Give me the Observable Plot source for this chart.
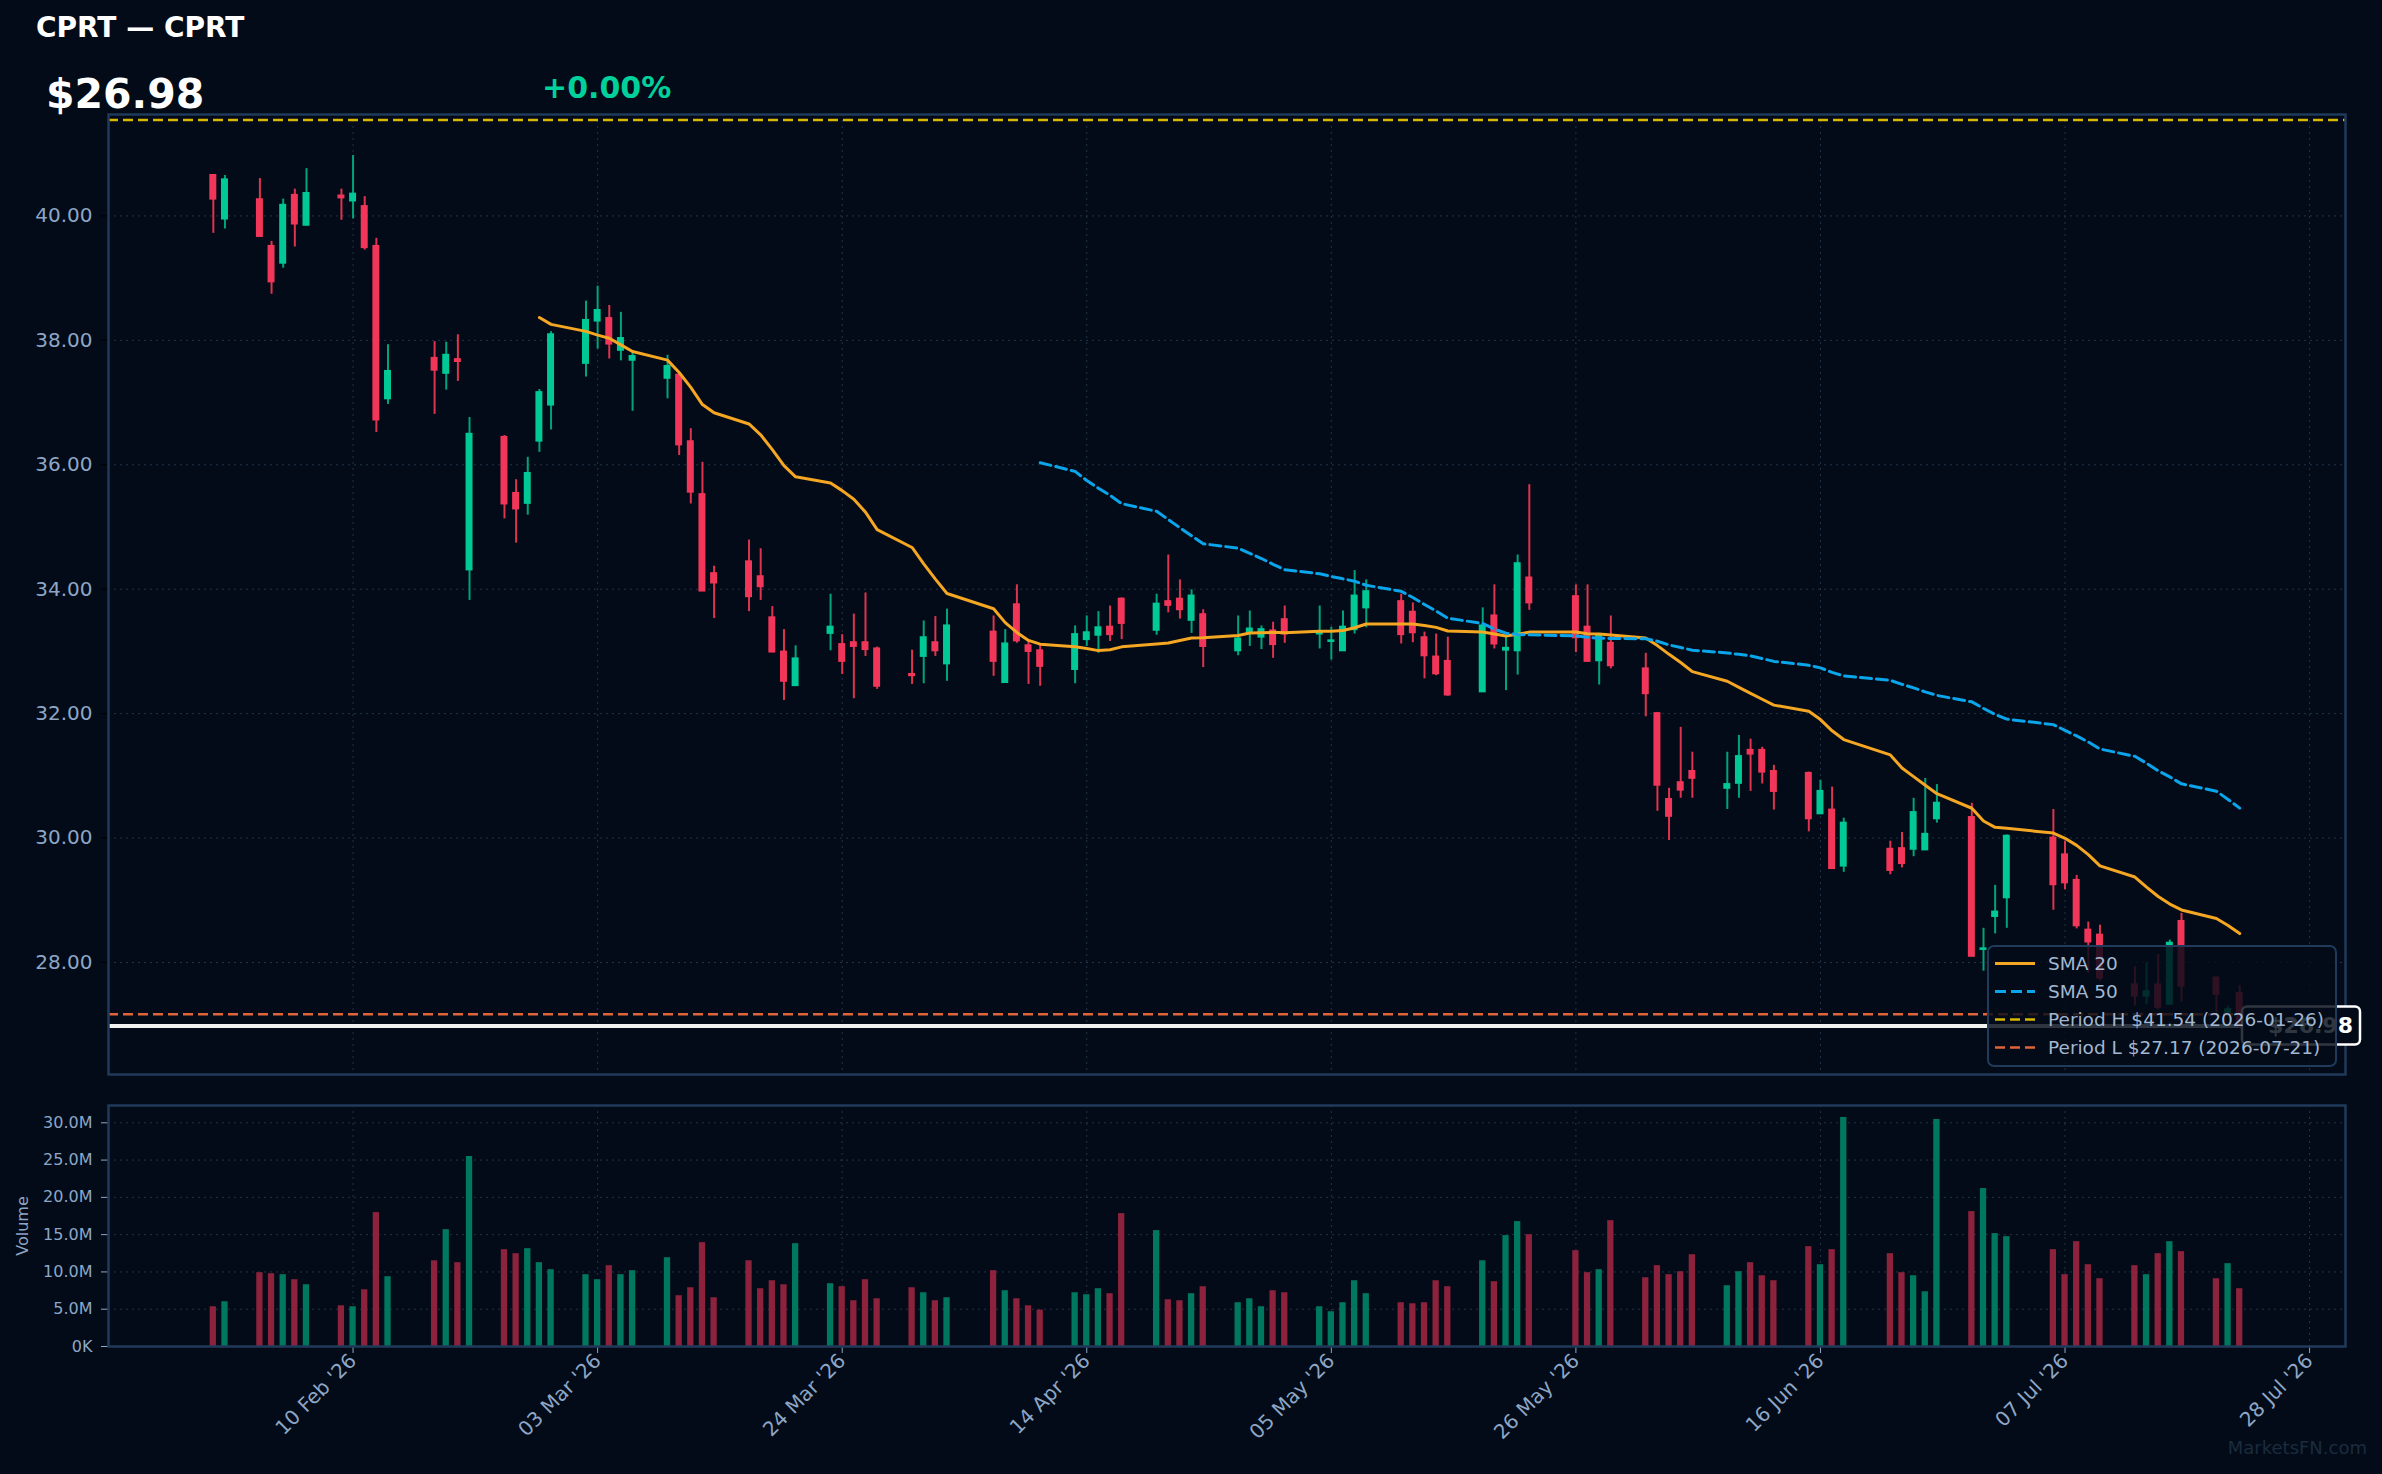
<!DOCTYPE html>
<html><head><meta charset="utf-8">
<script src="https://cdn.jsdelivr.net/npm/d3@7"></script>
<script src="https://cdn.jsdelivr.net/npm/@observablehq/plot@0.6"></script>
<style>
html,body{margin:0;padding:0;background:#020b17;}
#root{position:relative;width:2382px;height:1474px;overflow:hidden;background:#020b17;font-family:"DejaVu Sans",sans-serif;}
#root > svg{position:absolute;left:0;}
</style></head><body><div id="root"></div>
<script>
const dates = ["2026-01-29","2026-01-30","2026-02-02","2026-02-03","2026-02-04","2026-02-05","2026-02-06","2026-02-09","2026-02-10","2026-02-11","2026-02-12","2026-02-13","2026-02-17","2026-02-18","2026-02-19","2026-02-20","2026-02-23","2026-02-24","2026-02-25","2026-02-26","2026-02-27","2026-03-02","2026-03-03","2026-03-04","2026-03-05","2026-03-06","2026-03-09","2026-03-10","2026-03-11","2026-03-12","2026-03-13","2026-03-16","2026-03-17","2026-03-18","2026-03-19","2026-03-20","2026-03-23","2026-03-24","2026-03-25","2026-03-26","2026-03-27","2026-03-30","2026-03-31","2026-04-01","2026-04-02","2026-04-06","2026-04-07","2026-04-08","2026-04-09","2026-04-10","2026-04-13","2026-04-14","2026-04-15","2026-04-16","2026-04-17","2026-04-20","2026-04-21","2026-04-22","2026-04-23","2026-04-24","2026-04-27","2026-04-28","2026-04-29","2026-04-30","2026-05-01","2026-05-04","2026-05-05","2026-05-06","2026-05-07","2026-05-08","2026-05-11","2026-05-12","2026-05-13","2026-05-14","2026-05-15","2026-05-18","2026-05-19","2026-05-20","2026-05-21","2026-05-22","2026-05-26","2026-05-27","2026-05-28","2026-05-29","2026-06-01","2026-06-02","2026-06-03","2026-06-04","2026-06-05","2026-06-08","2026-06-09","2026-06-10","2026-06-11","2026-06-12","2026-06-15","2026-06-16","2026-06-17","2026-06-18","2026-06-22","2026-06-23","2026-06-24","2026-06-25","2026-06-26","2026-06-29","2026-06-30","2026-07-01","2026-07-02","2026-07-06","2026-07-07","2026-07-08","2026-07-09","2026-07-10","2026-07-13","2026-07-14","2026-07-15","2026-07-16","2026-07-17","2026-07-20","2026-07-21","2026-07-22"];

const openPrices = [
40.65,39.95,40.26,39.51,39.24,40.33,39.85,40.32,40.24,40.15,
39.51,37.06,37.71,37.47,37.69,34.31,36.44,35.54,35.38,36.38,
36.96,37.63,38.31,38.35,37.84,37.68,37.39,37.44,36.37,35.52,
34.25,34.44,34.20,33.54,32.99,32.45,33.29,33.11,33.14,33.14,
33.04,32.63,32.92,33.14,32.80,33.31,32.50,33.75,33.09,33.01,
32.71,33.19,33.26,33.39,33.84,33.34,33.80,33.84,33.50,33.59,
33.01,33.31,33.23,33.33,33.51,33.28,33.16,33.01,33.35,33.70,
33.80,33.63,33.22,32.91,32.84,32.35,33.57,33.02,33.01,34.18,
33.88,33.39,32.85,33.13,32.72,32.00,30.62,30.89,31.07,30.80,
30.88,31.41,31.41,31.07,31.04,30.39,30.45,29.55,29.82,29.83,
29.82,29.81,30.31,30.33,28.21,28.74,29.04,30.00,29.73,29.32,
28.52,28.44,27.64,27.46,27.64,27.33,28.66,27.75,27.20,27.50];

const highPrices = [
40.66,40.65,40.60,39.59,40.27,40.43,40.76,40.43,40.97,40.31,
39.64,37.93,37.98,37.97,38.09,36.76,36.47,35.76,36.12,37.21,
38.14,38.63,38.87,38.56,38.45,37.81,37.76,37.44,36.58,36.04,
34.37,34.79,34.65,33.72,33.35,33.09,33.92,33.27,33.60,33.94,
33.07,33.02,33.49,33.56,33.68,33.57,33.35,34.07,33.17,33.11,
33.41,33.57,33.64,33.73,33.86,33.92,34.55,34.15,33.99,33.67,
33.57,33.65,33.41,33.47,33.73,33.73,33.39,33.65,34.30,34.15,
33.92,33.78,33.31,33.28,33.23,33.70,34.07,33.26,34.55,35.68,
34.07,34.07,33.28,33.57,32.97,32.02,30.80,31.78,31.38,31.38,
31.65,31.59,31.46,31.17,31.06,30.93,30.82,30.32,29.95,30.09,
30.64,30.96,30.86,30.56,28.55,29.24,30.05,30.46,29.95,29.40,
28.65,28.60,27.93,28.00,28.13,28.36,28.79,27.77,27.30,27.63];

const lowPrices = [
39.72,39.79,39.66,38.74,39.16,39.50,39.84,39.93,39.95,39.45,
36.52,36.97,36.81,37.20,37.34,33.82,35.13,34.74,35.19,36.20,
36.56,37.41,37.86,37.70,37.67,36.86,37.06,36.15,35.37,33.97,
33.53,33.64,33.82,32.98,32.21,32.45,33.01,32.63,32.24,32.92,
32.39,32.47,32.48,32.92,32.52,32.60,32.50,33.13,32.47,32.44,
32.48,33.08,32.97,33.16,33.19,33.26,33.62,33.52,33.29,32.74,
32.93,33.08,33.03,32.89,33.13,33.04,32.86,33.01,33.28,33.38,
33.12,33.14,32.56,32.61,32.28,32.35,33.04,32.37,32.62,33.66,
32.98,32.83,32.46,32.72,31.95,30.43,29.96,30.64,30.64,30.46,
30.64,30.75,30.87,30.45,30.10,30.39,29.51,29.45,29.41,29.52,
29.70,29.81,30.24,28.09,27.86,28.46,28.55,28.84,29.17,28.54,
27.83,27.70,27.30,27.32,27.24,27.33,27.36,27.19,27.17,26.95];

const closePrices = [
40.27,40.58,39.67,38.94,40.17,39.87,40.36,40.29,40.35,39.49,
36.72,37.50,37.52,37.76,37.66,36.49,35.37,35.29,35.86,37.16,
38.09,38.32,38.48,37.94,38.03,37.74,37.58,36.32,35.56,33.97,
34.10,33.88,34.04,32.99,32.52,32.88,33.39,32.84,33.08,33.03,
32.44,32.61,33.22,33.01,33.41,32.84,33.12,33.17,33.00,32.76,
33.27,33.30,33.38,33.27,33.45,33.76,33.74,33.67,33.89,33.08,
33.20,33.36,33.35,33.11,33.28,33.29,33.17,33.39,33.89,33.96,
33.27,33.30,32.93,32.64,32.30,33.41,33.12,33.05,34.41,33.78,
33.22,32.84,33.26,32.77,32.32,30.85,30.35,30.77,30.96,30.86,
31.31,31.35,31.06,30.75,30.31,30.75,29.51,30.24,29.48,29.59,
30.41,30.06,30.56,28.10,28.22,28.81,30.03,29.25,29.28,28.59,
28.33,27.75,27.46,27.53,27.28,28.31,27.62,27.49,27.24,26.98];

// volume in millions of shares
const volumesM = [
5.33,6.00,9.90,9.76,9.63,8.96,8.28,5.46,5.33,7.61,
17.96,9.36,11.50,15.67,11.24,25.48,12.99,12.45,13.12,11.24,
10.30,9.63,8.96,10.84,9.63,10.17,11.91,6.81,7.88,13.93,
6.54,11.50,7.75,8.82,8.28,13.79,8.42,8.02,6.14,8.96,
6.40,7.88,7.21,6.14,6.54,10.17,7.48,6.40,5.46,4.88,
7.21,6.94,7.75,7.08,17.82,15.54,6.27,6.14,7.08,8.02,
5.87,6.40,5.33,7.48,7.21,5.33,4.66,5.87,8.82,7.08,
5.87,5.73,5.87,8.82,8.02,11.50,8.69,14.87,16.75,15.00,
12.85,9.90,10.30,16.88,9.22,10.84,9.63,10.03,12.31,8.15,
10.03,11.24,9.49,8.82,13.39,10.97,12.99,30.72,12.45,9.90,
9.49,7.34,30.45,18.09,21.18,15.14,14.73,12.99,9.63,14.06,
10.97,9.09,10.84,9.63,12.45,14.06,12.72,9.09,11.11,7.75];

const priceTicks = [28, 30, 32, 34, 36, 38, 40];
const priceTickLabels = ["28.00","30.00","32.00","34.00","36.00","38.00","40.00"];
const volumeTicks = [0, 5, 10, 15, 20, 25, 30];
const volumeTickLabels = ["0K","5.0M","10.0M","15.0M","20.0M","25.0M","30.0M"];
const dateTicks = ["2026-02-10","2026-03-03","2026-03-24","2026-04-14","2026-05-05","2026-05-26","2026-06-16","2026-07-07","2026-07-28"];
const dateTickLabels = ["10 Feb '26","03 Mar '26","24 Mar '26","14 Apr '26","05 May '26","26 May '26","16 Jun '26","07 Jul '26","28 Jul '26"];

const titleText = "CPRT — CPRT";
const lastPriceText = "$26.98";
const changeText = "+0.00%";
const periodHigh = 41.54, periodLow = 27.17, lastPrice = 26.98;
const legendLabels = ["SMA 20", "SMA 50", "Period H $41.54 (2026-01-26)", "Period L $27.17 (2026-07-21)"];
const watermark = "MarketsFN.com";

// ---------- styling ----------
const BG = "#020b17", FRAME = "#1f3a5a", GRID = "#22344a", TICK = "#8ea6c6";
const GREEN = "#00c896", RED = "#f2365a";
const GREEN_W = "#00a47c", RED_W = "#e0334f";
const GREEN_V = "#00785f", RED_V = "#8c223c";
const ORANGE = "#f5a623", BLUE = "#0ba5ec", YELLOW = "#d8b800", ORANGE_L = "#e0643a";
const DAY = 864e5;
const xDomain = [new Date("2026-01-20T00:00:00Z"), new Date("2026-07-31T02:00:00Z")];

const rows = dates.map((d, i) => ({
  date: new Date(d + "T00:00:00Z"),
  open: openPrices[i], high: highPrices[i], low: lowPrices[i], close: closePrices[i], volume: volumesM[i]
}));
const up = d => d.close >= d.open;
const tickDates = dateTicks.map(d => new Date(d + "T00:00:00Z"));
const fmtDate = d => dateTickLabels[tickDates.findIndex(t => +t === +d)];

const root = document.getElementById("root");

// ---------- price panel ----------
const price = Plot.plot({
  width: 2382, height: 1090,
  marginLeft: 108, marginRight: 37, marginTop: 114, marginBottom: 16,
  style: {background: "transparent", color: TICK, fontFamily: "DejaVu Sans", fontSize: "20px", overflow: "visible"},
  x: {type: "utc", domain: xDomain, axis: null},
  y: {domain: [26.2, 41.63], axis: null},
  marks: [
    Plot.gridX(tickDates, {stroke: GRID, strokeOpacity: 1, strokeDasharray: "2,4"}),
    Plot.gridY(priceTicks, {stroke: GRID, strokeOpacity: 1, strokeDasharray: "2,4"}),
    Plot.axisY(priceTicks, {tickFormat: d => priceTickLabels[priceTicks.indexOf(d)], tickSize: 7, tickPadding: 9, stroke: "#000000", fill: TICK, fontSize: 20, label: null}),
    Plot.ruleY([periodHigh], {stroke: YELLOW, strokeWidth: 2.5, strokeDasharray: "10,5"}),
    Plot.ruleY([periodLow], {stroke: ORANGE_L, strokeWidth: 2.5, strokeDasharray: "10,5"}),
    Plot.ruleY([lastPrice], {stroke: "#f2f2f2", strokeWidth: 4}),
    Plot.ruleX(rows, {x: "date", y1: "low", y2: "high", stroke: d => up(d) ? GREEN_W : RED_W, strokeWidth: 2}),
    Plot.rect(rows, {
      x1: d => new Date(+d.date - 0.3 * DAY), x2: d => new Date(+d.date + 0.3 * DAY),
      y1: "open", y2: "close", fill: d => up(d) ? GREEN : RED, insetTop: -1, insetBottom: -1
    }),
    Plot.lineY(rows, Plot.windowY({k: 20, anchor: "end", strict: true}, {x: "date", y: "close", stroke: ORANGE, strokeWidth: 3})),
    Plot.lineY(rows, Plot.windowY({k: 50, anchor: "end", strict: true}, {x: "date", y: "close", stroke: BLUE, strokeWidth: 3, strokeDasharray: "11,5"})),
    Plot.frame({stroke: FRAME, strokeWidth: 2.5})
  ]
});
price.style.top = "0px";
root.appendChild(price);

// ---------- volume panel ----------
const vol = Plot.plot({
  width: 2382, height: 384,
  marginLeft: 108, marginRight: 37, marginTop: 15, marginBottom: 128,
  style: {background: "transparent", color: TICK, fontFamily: "DejaVu Sans", fontSize: "16px", overflow: "visible"},
  x: {type: "utc", domain: xDomain},
  y: {domain: [0, 32.32]},
  marks: [
    Plot.gridX(tickDates, {stroke: GRID, strokeOpacity: 1, strokeDasharray: "2,4"}),
    Plot.gridY(volumeTicks, {stroke: GRID, strokeOpacity: 1, strokeDasharray: "2,4"}),
    Plot.axisY(volumeTicks, {tickFormat: d => volumeTickLabels[volumeTicks.indexOf(d)], tickSize: 7, tickPadding: 9, stroke: TICK, fill: TICK, fontSize: 16,
      label: "Volume", labelAnchor: "center", labelArrow: "none", labelOffset: 92}),
    Plot.axisX(tickDates, {tickFormat: fmtDate, tickRotate: -45, tickSize: 7, tickPadding: 4, stroke: TICK, fill: TICK, fontSize: 20, label: null}),
    Plot.rectY(rows, {
      x1: d => new Date(+d.date - 0.27 * DAY), x2: d => new Date(+d.date + 0.27 * DAY),
      y: "volume", fill: d => up(d) ? GREEN_V : RED_V
    }),
    Plot.frame({stroke: FRAME, strokeWidth: 2.5})
  ]
});
vol.style.top = "1090px";
root.appendChild(vol);

// ---------- overlay: titles, last-price label, legend, watermark ----------
const yS = price.scale("y");
const yLast = yS.apply(lastPrice);
const ov = d3.create("svg").attr("width", 2382).attr("height", 1474)
  .style("top", "0px").style("font-family", "DejaVu Sans");

ov.append("text").attr("x", 36).attr("y", 37).attr("fill", "#ffffff").attr("font-weight", "bold").attr("font-size", 28).text(titleText);
ov.append("text").attr("x", 46).attr("y", 108).attr("fill", "#ffffff").attr("font-weight", "bold").attr("font-size", 41).text(lastPriceText);
ov.append("text").attr("x", 542).attr("y", 98).attr("fill", "#00d09c").attr("font-weight", "bold").attr("font-size", 30).text(changeText);

// last price tag (drawn below the legend, as in the reference)
ov.append("rect").attr("x", 2242).attr("y", yLast - 19).attr("width", 118).attr("height", 38).attr("rx", 5)
  .attr("fill", BG).attr("stroke", "#ffffff").attr("stroke-width", 2.5);
ov.append("text").attr("x", 2353).attr("y", yLast + 8).attr("text-anchor", "end").attr("fill", "#ffffff")
  .attr("font-weight", "bold").attr("font-size", 22).text(lastPriceText);

// legend
const lg = ov.append("g");
lg.append("rect").attr("x", 1988).attr("y", 946).attr("width", 348).attr("height", 120).attr("rx", 6)
  .attr("fill", BG).attr("fill-opacity", 0.82).attr("stroke", FRAME).attr("stroke-width", 2);
const legendStyles = [
  {stroke: ORANGE, dash: null, w: 3},
  {stroke: BLUE, dash: "11,5", w: 3},
  {stroke: YELLOW, dash: "10,5", w: 2.5},
  {stroke: ORANGE_L, dash: "10,5", w: 2.5}
];
const rowY = [963.5, 991.5, 1019.5, 1047.5];
legendLabels.forEach((t, i) => {
  const s = legendStyles[i];
  const ln = lg.append("line").attr("x1", 1995).attr("x2", 2035).attr("y1", rowY[i]).attr("y2", rowY[i])
    .attr("stroke", s.stroke).attr("stroke-width", s.w);
  if (s.dash) ln.attr("stroke-dasharray", s.dash);
  lg.append("text").attr("x", 2048).attr("y", rowY[i] + 6.5).attr("fill", "#a3b7d0").attr("font-size", 18.5).text(t);
});

ov.append("text").attr("x", 2367).attr("y", 1454).attr("text-anchor", "end").attr("fill", "#1b2b3f").attr("font-size", 18).text(watermark);

root.appendChild(ov.node());
</script>
</body></html>
